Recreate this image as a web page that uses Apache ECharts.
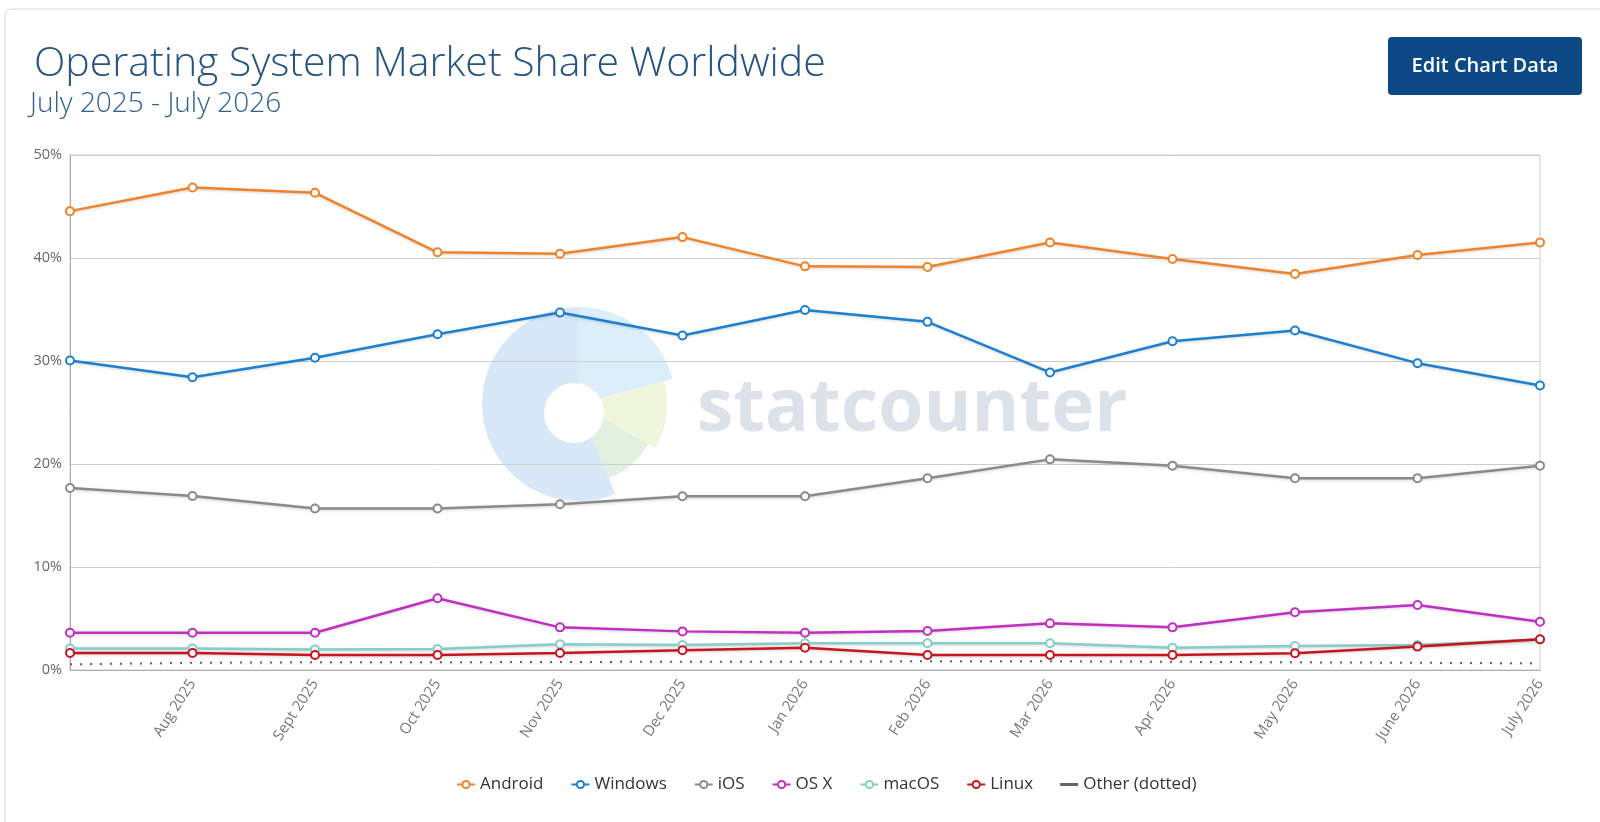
<!DOCTYPE html>
<html>
<head>
<meta charset="utf-8">
<script src="https://cdn.jsdelivr.net/npm/echarts@6/dist/echarts.min.js"></script>
<style>
html,body{margin:0;padding:0;background:#fff;}
#chart{width:1600px;height:822px;}
</style>
</head>
<body>
<div id="chart"></div>
<script>
const categories = ['July 2025','Aug 2025','Sept 2025','Oct 2025','Nov 2025','Dec 2025','Jan 2026','Feb 2026','Mar 2026','Apr 2026','May 2026','June 2026','July 2026'];
const android = [44.55, 46.85, 46.33, 40.55, 40.42, 42.03, 39.19, 39.13, 41.51, 39.9, 38.45, 40.29, 41.51];
const windows = [30.05, 28.43, 30.31, 32.6, 34.7, 32.47, 34.96, 33.8, 28.89, 31.92, 32.96, 29.79, 27.63];
const ios = [17.67, 16.9, 15.68, 15.68, 16.1, 16.87, 16.87, 18.61, 20.45, 19.84, 18.61, 18.61, 19.84];
const osx = [3.62, 3.62, 3.62, 6.96, 4.14, 3.75, 3.62, 3.79, 4.53, 4.14, 5.6, 6.31, 4.69];
const macos = [2.08, 2.08, 2.0, 2.04, 2.5, 2.42, 2.59, 2.59, 2.59, 2.17, 2.33, 2.43, 2.95];
const linux = [1.65, 1.65, 1.46, 1.46, 1.65, 1.92, 2.17, 1.46, 1.46, 1.46, 1.62, 2.27, 2.98];
const other = [0.55, 0.7, 0.75, 0.75, 0.78, 0.8, 0.8, 0.85, 0.85, 0.8, 0.75, 0.7, 0.65];
const yTicks = [0, 10, 20, 30, 40, 50];

const chart = echarts.init(document.getElementById('chart'));
const font = '"Open Sans", "Noto Sans", sans-serif';
const shadow = {shadowColor:'rgba(0,0,0,0.18)', shadowBlur:3, shadowOffsetY:1};

function lineSeries(name, data, color){
  return {
    name, type:'line', data,
    symbol:'emptyCircle', symbolSize:8,
    itemStyle:{color:color, borderColor:color, borderWidth:1.5},
    lineStyle:Object.assign({color:color, width:2.5}, shadow),
    emphasis:{disabled:true}
  };
}
const deg = Math.PI/180;
const cx = 579, cy = 404;
chart.setOption({
  backgroundColor:'#ffffff',
  animation:false,
  textStyle:{fontFamily:font},
  graphic:[
    {type:'rect', shape:{x:5, y:9, width:1620, height:840, r:6}, style:{fill:'#fff', stroke:'#cfdce5', lineWidth:1}, z:-10},
    {type:'text', left:34, top:44, style:{text:'Operating System Market Share Worldwide', font:'300 41px "Open Sans", sans-serif', fill:'#255382'}},
    {type:'text', left:30, top:90, style:{text:'July 2025 - July 2026', font:'300 28px "Open Sans", sans-serif', fill:'#2f6090'}},
    {type:'rect', shape:{x:1388, y:37, width:194, height:58, r:4}, style:{fill:'#0b4884'}},
    {type:'text', x:1485, y:66, style:{text:'Edit Chart Data', font:'600 20px "Open Sans", sans-serif', fill:'#ffffff', align:'center', verticalAlign:'middle'}},
    {type:'sector', shape:{cx:cx, cy:cy, r0:0, r:97, startAngle:68*deg, endAngle:270*deg}, style:{fill:'#d8e8f7'}, z:-2},
    {type:'sector', shape:{cx:cx, cy:cy, r0:0, r:97, startAngle:270*deg, endAngle:345*deg}, style:{fill:'#ddeefb'}, z:-2},
    {type:'sector', shape:{cx:cx, cy:cy, r0:0, r:88, startAngle:345*deg, endAngle:390*deg}, style:{fill:'#f0f6dc'}, z:-2},
    {type:'sector', shape:{cx:cx, cy:cy, r0:0, r:80, startAngle:30*deg, endAngle:68*deg}, style:{fill:'#e2f0e0'}, z:-2},
    {type:'circle', shape:{cx:574, cy:413, r:30}, style:{fill:'#ffffff'}, z:-1},
    {type:'text', x:697, y:410, style:{text:'statcounter', font:'bold 73px "Open Sans", sans-serif', fill:'#dde2ea', verticalAlign:'middle'}, z:-1}
  ],
  grid:{left:70, right:60, top:155, bottom:152, show:true, borderColor:'#cccccc', borderWidth:1},
  xAxis:{
    type:'category', data:categories, boundaryGap:false,
    axisLine:{lineStyle:{color:'#aaaaaa'}},
    axisTick:{show:false},
    axisLabel:{rotate:57, color:'#777', fontSize:15, margin:11, interval:function(i){return i>0;}}
  },
  yAxis:{
    type:'value', min:yTicks[0], max:yTicks[yTicks.length-1], interval:10,
    axisLine:{show:true, lineStyle:{color:'#aaaaaa'}},
    axisLabel:{formatter:'{value}%', color:'#666', fontSize:14.5, margin:8},
    splitLine:{lineStyle:{color:'#cccccc'}}
  },
  legend:{
    left:451, top:771, itemWidth:18, itemHeight:9, itemGap:27,
    textStyle:{fontSize:17, color:'#333', fontFamily:font},
    data:['Android','Windows','iOS','OS X','macOS','Linux',{name:'Other (dotted)', icon:'path://M0,0L18,0L18,3L0,3Z', itemStyle:{color:'#666'}}]
  },
  series:[
    lineSeries('Android', android, '#f0832a'),
    lineSeries('Windows', windows, '#1c7fd0'),
    lineSeries('iOS', ios, '#8a8a8a'),
    lineSeries('OS X', osx, '#c22dc2'),
    lineSeries('macOS', macos, '#86cdc7'),
    lineSeries('Linux', linux, '#c8141c'),
    {name:'Other (dotted)', type:'line', data:other, symbol:'none',
     itemStyle:{color:'#666'},
     lineStyle:{color:'#666', width:2, type:[2,8], shadowColor:'rgba(0,0,0,0.15)', shadowBlur:2, shadowOffsetY:1}, emphasis:{disabled:true}}
  ]
});
</script>
</body>
</html>
